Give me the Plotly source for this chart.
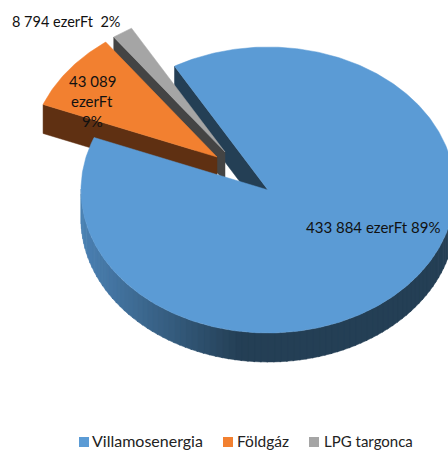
import numpy as np
import plotly.graph_objects as go

categories = ["Villamosenergia", "Földgáz", "LPG targonca"]
values = [433884, 43089, 8794]
percent_labels = ["89%", "9%", "2%"]
value_labels = ["433 884 ezerFt", "43 089 ezerFt", "8 794 ezerFt"]
colors = ["#5B9BD5", "#F28030", "#A5A5A5"]
wall_colors = ["#243F55", "#5F3012", "#444444"]

W, H = 448, 450
RX, RY, DEPTH = 187, 143, 29
START = -30.0
apex = [(268, 190), (217, 157), (225, 152)]
legend_swatch_x = [84, 228, 314]
legend_text_x = [92, 237, 324]
legend_text_size = [16, 15.5, 15]
LEGEND_Y = 443

shares = np.array(values) / sum(values) * 360
starts = START + np.concatenate([[0], np.cumsum(shares)[:-1]])
ends = starts + shares


def pt(c, a, dy=0):
    r = np.radians(a)
    return c[0] + RX * np.sin(r), c[1] - RY * np.cos(r) + dy


def poly(xs, ys, color):
    return go.Scatter(x=list(xs) + [xs[0]], y=list(ys) + [ys[0]], mode="lines", fill="toself",
                      fillcolor=color, line=dict(width=0.5, color=color),
                      hoverinfo="skip", showlegend=False)


def sector(i):
    a = np.linspace(starts[i], ends[i], max(8, int(shares[i] * 1.5)))
    x, y = pt(apex[i], a)
    return poly([apex[i][0]] + list(x), [apex[i][1]] + list(y), colors[i])


def start_wall(i):
    x, y = pt(apex[i], starts[i])
    return poly([x, apex[i][0], apex[i][0], x], [y, apex[i][1], apex[i][1] + DEPTH, y + DEPTH], wall_colors[i])


def blend(t):
    c0 = np.array([0x4C, 0x82, 0xB4])
    c1 = np.array([0x24, 0x3F, 0x55])
    c = c0 + (c1 - c0) * t
    return "rgb(%d,%d,%d)" % tuple(c)


fig = go.Figure()
fig.add_trace(start_wall(0))
fig.add_trace(start_wall(2))
fig.add_trace(sector(2))
fig.add_trace(start_wall(1))
fig.add_trace(sector(1))

# outer rim of the large slice, shaded from left to right
edges = np.arange(90, 272, 2.0)
for a0, a1 in zip(edges[:-1], edges[1:]):
    a = np.linspace(a0, a1 + 0.4, 3)
    x, y = pt(apex[0], a)
    t = float(np.clip((x.mean() - 81) / (240 - 81), 0, 1))
    fig.add_trace(poly(list(x) + list(x[::-1]), list(y) + list((y + DEPTH)[::-1]), blend(t)))
fig.add_trace(sector(0))

for i, name in enumerate(categories):
    fig.add_trace(go.Scatter(x=[legend_swatch_x[i]], y=[LEGEND_Y - 1], mode="markers", name=name,
                             marker=dict(symbol="square", size=10, color=colors[i]),
                             hoverinfo="skip", showlegend=False))
    fig.add_trace(go.Scatter(x=[legend_text_x[i]], y=[LEGEND_Y], mode="text", text=[name],
                             textposition="middle right", hoverinfo="skip", showlegend=False,
                             textfont=dict(family="Lato", size=legend_text_size[i], color="#222222")))

font = dict(family="Lato", size=15, color="#111111")
fig.add_annotation(x=373, y=227, text=f"{value_labels[0]} {percent_labels[0]}", showarrow=False, font=font)
for yy, line in zip([81, 101, 121], ["43 089", "ezerFt", percent_labels[1]]):
    fig.add_annotation(x=92, y=yy, text=line, showarrow=False, font=font)
fig.add_annotation(x=66, y=21, text=f"{value_labels[2]}  {percent_labels[2]}", showarrow=False,
                   font=dict(family="Lato", size=14.5, color="#111111"))

fig.update_xaxes(range=[0, W], visible=False, fixedrange=True)
fig.update_yaxes(range=[H, 0], visible=False, fixedrange=True)
fig.update_layout(width=W, height=H, margin=dict(l=0, r=0, t=0, b=0), autosize=False,
                  paper_bgcolor="white", plot_bgcolor="white", showlegend=False)
fig.write_html("out.html", config={"displayModeBar": False},
               post_script="document.body.style.margin='0';document.documentElement.style.overflow='hidden';")
